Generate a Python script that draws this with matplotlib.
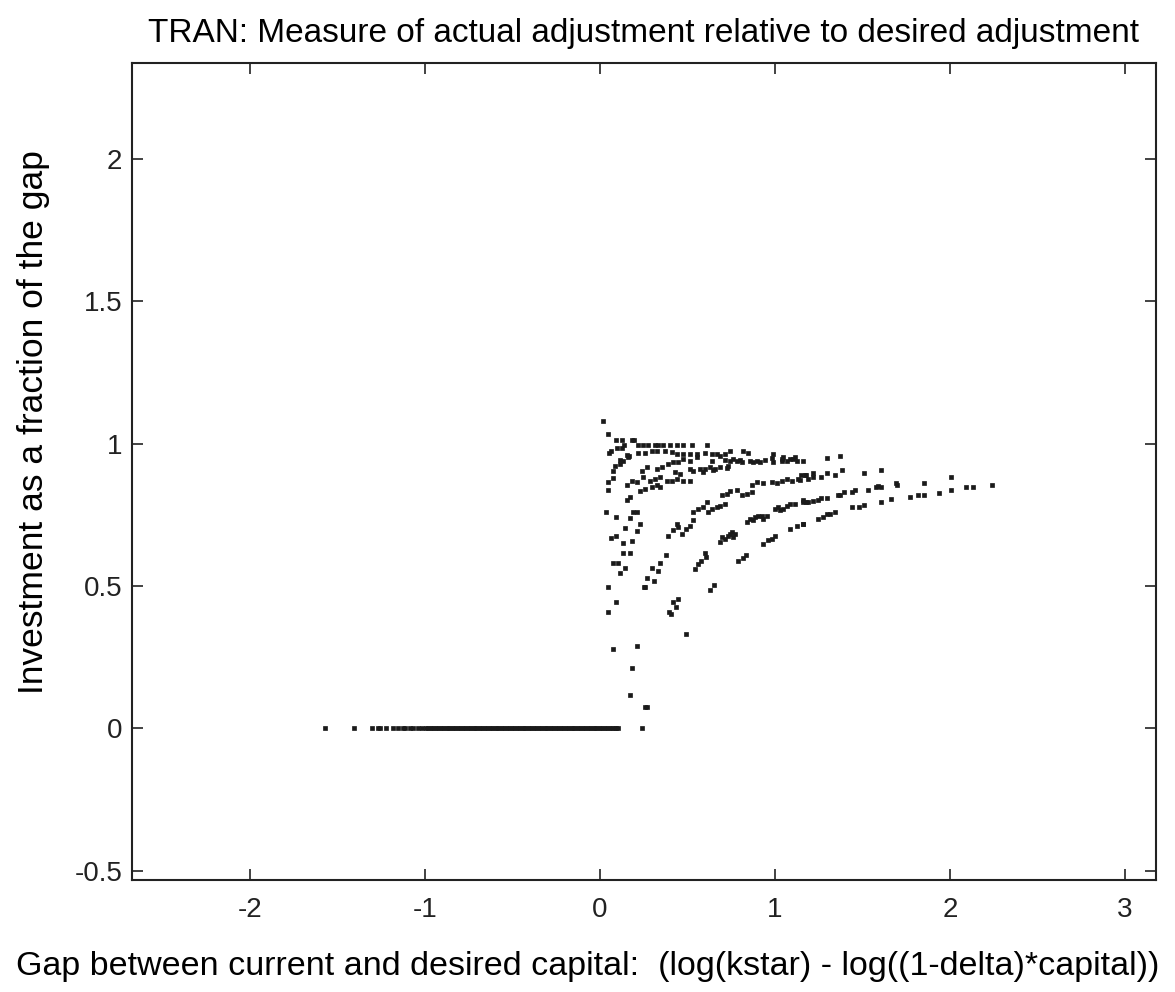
import numpy as np
import matplotlib
matplotlib.use('Agg')
import matplotlib.pyplot as plt

plt.rcParams['font.family'] = ['Liberation Sans', 'DejaVu Sans']

# points sitting on zero (no investment)
zero_x = [-1.571, -1.406, -1.303, -1.267, -1.257, -1.223, -1.181, -1.156, -1.128,
          -1.114, -1.086, -1.070, -1.038, -1.019,
          -0.994, -0.980, -0.966, -0.952, -0.938, -0.924, -0.910, -0.896, -0.882,
          -0.868, -0.854, -0.840, -0.826, -0.812, -0.798, -0.784, -0.770, -0.756,
          -0.742, -0.728, -0.714, -0.700, -0.686, -0.672, -0.658, -0.644, -0.630,
          -0.616, -0.602, -0.588, -0.574, -0.560, -0.546, -0.532, -0.518, -0.504,
          -0.490, -0.476, -0.462, -0.448, -0.434, -0.420, -0.406, -0.392, -0.378,
          -0.364, -0.350, -0.336, -0.322, -0.308, -0.294, -0.280, -0.266, -0.252,
          -0.238, -0.224, -0.210, -0.196, -0.182, -0.168, -0.154, -0.140, -0.126,
          -0.112, -0.098, -0.084, -0.070, -0.056, -0.042, -0.028, -0.014, 0.000,
          0.014, 0.028, 0.042, 0.056, 0.067, 0.086, 0.094, 0.103, 0.238]

# top band (fraction close to 1)
top_x = [0.019, 0.047, 0.091, 0.124, 0.181, 0.196,
         0.139, 0.219, 0.248, 0.276, 0.314, 0.333, 0.362, 0.400, 0.438, 0.476, 0.524, 0.610,
         0.100, 0.124, 0.052, 0.066,
         0.160, 0.166, 0.156, 0.133, 0.114,
         0.219, 0.257, 0.295, 0.324, 0.371, 0.410, 0.438,
         0.476, 0.514, 0.552, 0.600, 0.638, 0.667, 0.686, 0.714, 0.743, 0.819, 0.848, 0.990,
         1.048, 1.086, 1.114, 1.162, 1.300, 1.371]
top_y = [1.078, 1.035, 1.011, 1.011, 1.011, 1.011,
         0.994, 0.994, 0.994, 0.994, 0.994, 0.994, 0.994, 0.994, 0.994, 0.994, 0.994, 0.994,
         0.985, 0.985, 0.968, 0.975,
         0.954, 0.958, 0.960, 0.940, 0.943,
         0.968, 0.966, 0.975, 0.975, 0.975, 0.969, 0.964,
         0.964, 0.964, 0.964, 0.968, 0.962, 0.964, 0.958, 0.964, 0.975, 0.975, 0.966, 0.964,
         0.952, 0.946, 0.952, 0.940, 0.950, 0.958]

# second band
b2_x = [0.238, 0.267, 0.324, 0.352, 0.390, 0.419, 0.448, 0.476, 0.514, 0.552,
        0.638, 0.714, 0.743, 0.762, 0.781, 0.800, 0.810, 0.857, 0.876, 0.895, 0.914,
        0.943, 0.981, 0.990, 1.038, 1.038, 1.067, 1.105, 1.124,
        0.076, 0.086, 0.114,
        0.429, 0.457, 0.514, 0.533, 0.571, 0.600, 0.629, 0.657, 0.686, 0.724, 0.733,
        0.590, 0.648,
        1.147, 1.177, 1.219, 1.300, 1.343, 1.385, 1.509, 1.606, 2.006]
b2_y = [0.905, 0.917, 0.911, 0.917, 0.929, 0.935, 0.935, 0.946, 0.940, 0.952,
        0.940, 0.943, 0.940, 0.946, 0.940, 0.943, 0.935, 0.940, 0.935, 0.940, 0.935,
        0.943, 0.950, 0.935, 0.946, 0.940, 0.940, 0.946, 0.938,
        0.905, 0.923, 0.929,
        0.900, 0.894, 0.911, 0.905, 0.911, 0.911, 0.917, 0.911, 0.917, 0.914, 0.920,
        0.900, 0.906,
        0.890, 0.890, 0.898, 0.898, 0.890, 0.906, 0.898, 0.906, 0.881]

# third band
b3_x = [0.047, 0.047, 0.072,
        0.152, 0.181, 0.210, 0.248,
        0.286, 0.314, 0.343, 0.381, 0.410, 0.438, 0.476, 0.514,
        0.229, 0.257, 0.295, 0.324, 0.343,
        0.867, 0.895, 0.933, 0.981, 1.010, 1.038, 1.067, 1.095, 1.133, 1.171,
        1.143, 1.190, 1.217, 1.263,
        1.590, 1.606, 1.579, 1.533, 1.690, 1.700, 1.853, 2.006, 2.090, 2.130, 2.238,
        0.695, 0.724, 0.743, 0.781, 0.810, 0.838, 0.867,
        1.457, 1.438, 1.396, 1.371, 1.358, 1.937, 1.853, 1.820, 1.771, 1.661, 1.606]
b3_y = [0.864, 0.837, 0.879,
        0.853, 0.870, 0.864, 0.882,
        0.870, 0.876, 0.882, 0.870, 0.870, 0.876, 0.870, 0.870,
        0.835, 0.841, 0.847, 0.853, 0.847,
        0.853, 0.864, 0.861, 0.864, 0.861, 0.870, 0.876, 0.870, 0.876, 0.888,
        0.873, 0.875, 0.882, 0.881,
        0.850, 0.846, 0.846, 0.837, 0.863, 0.854, 0.863, 0.837, 0.846, 0.846, 0.855,
        0.818, 0.823, 0.835, 0.837, 0.818, 0.823, 0.829,
        0.837, 0.829, 0.829, 0.820, 0.820, 0.828, 0.820, 0.820, 0.812, 0.804, 0.795]

# fourth band
b4_x = [0.152, 0.171,
        0.034, 0.090, 0.187, 0.210,
        0.143, 0.213, 0.171, 0.229,
        0.390, 0.419, 0.438, 0.448, 0.467, 0.490, 0.514, 0.533,
        0.533, 0.562, 0.590, 0.610, 0.619, 0.638, 0.667, 0.686, 0.714,
        0.838, 0.857, 0.876, 0.886, 0.905, 0.924, 0.933, 0.952,
        1.000, 1.019, 1.029, 1.048, 1.067, 1.086, 1.114, 1.162,
        1.300, 1.261, 1.247, 1.219, 1.190, 1.177, 1.162,
        1.509, 1.482, 1.438,
        1.343, 1.314, 1.300, 1.273, 1.247, 1.162]
b4_y = [0.802, 0.812,
        0.761, 0.743, 0.761, 0.761,
        0.703, 0.692, 0.737, 0.718,
        0.675, 0.695, 0.716, 0.707, 0.683, 0.700, 0.709, 0.733,
        0.759, 0.771, 0.777, 0.795, 0.759, 0.771, 0.777, 0.782, 0.788,
        0.724, 0.736, 0.730, 0.742, 0.747, 0.747, 0.736, 0.747,
        0.771, 0.777, 0.765, 0.771, 0.782, 0.788, 0.788, 0.795,
        0.810, 0.810, 0.801, 0.798, 0.795, 0.795, 0.801,
        0.786, 0.777, 0.777,
        0.760, 0.751, 0.751, 0.743, 0.734, 0.718]

# lower points (steep part of the curves)
low_x = [0.061, 0.090, 0.130, 0.185, 0.130, 0.171,
         0.076, 0.105, 0.114, 0.143,
         0.295, 0.343, 0.333, 0.377, 0.267, 0.309, 0.253, 0.257,
         0.545, 0.562, 0.577, 0.606, 0.600,
         0.686, 0.695, 0.714, 0.733, 0.743, 0.762, 0.771, 0.752,
         0.933, 0.962, 0.981, 1.000,
         1.086, 1.124, 1.162,
         0.790, 0.819, 0.833,
         0.629, 0.653, 0.047,
         0.448, 0.419, 0.434, 0.392, 0.406,
         0.090, 0.047, 0.490, 0.072, 0.213, 0.185, 0.171, 0.257, 0.267]
low_y = [0.669, 0.675, 0.650, 0.657, 0.615, 0.615,
         0.580, 0.580, 0.545, 0.564,
         0.564, 0.580, 0.554, 0.607, 0.528, 0.519, 0.495, 0.496,
         0.560, 0.578, 0.589, 0.601, 0.615,
         0.654, 0.671, 0.665, 0.677, 0.683, 0.671, 0.683, 0.689,
         0.648, 0.660, 0.665, 0.674,
         0.700, 0.709, 0.716,
         0.589, 0.599, 0.607,
         0.484, 0.502, 0.496,
         0.455, 0.443, 0.426, 0.409, 0.400,
         0.443, 0.409, 0.332, 0.280, 0.289, 0.212, 0.116, 0.075, 0.075]

gap = np.concatenate([zero_x, top_x, b2_x, b3_x, b4_x, low_x])
frac = np.concatenate([np.zeros(len(zero_x)), top_y, b2_y, b3_y, b4_y, low_y])

fig = plt.figure(figsize=(11.75, 9.92), dpi=100)
ax = fig.add_axes([0.1123, 0.1129, 0.8715, 0.8236])

ax.plot(gap, frac, linestyle='none', marker='s', markersize=2.3,
        markeredgewidth=0.5, color='#1a1a1a')

ax.set_xlim(-2.674, 3.177)
ax.set_ylim(-0.533, 2.337)
ax.set_xticks([-2, -1, 0, 1, 2, 3])
ax.set_xticklabels(['-2', '-1', '0', '1', '2', '3'])
ax.set_yticks([-0.5, 0, 0.5, 1, 1.5, 2])
ax.set_yticklabels(['-0.5', '0', '0.5', '1', '1.5', '2'])

ax.tick_params(axis='x', direction='in', length=8, width=1.2, top=True, bottom=True,
               labelsize=20, pad=12, colors='#222222')
ax.tick_params(axis='y', direction='in', length=8, width=1.2, left=True, right=True,
               labelsize=20, pad=7, colors='#222222')
for s in ax.spines.values():
    s.set_linewidth(1.5)
    s.set_color('#222222')

ax.set_title('TRAN: Measure of actual adjustment relative to desired adjustment',
             fontsize=24, pad=15)
ax.set_xlabel('Gap between current and desired capital:  (log(kstar) - log((1-delta)*capital))',
              fontsize=24.5)
ax.xaxis.set_label_coords(0.445, -0.087)
ax.set_ylabel('Investment as a fraction of the gap', fontsize=25.5)
ax.yaxis.set_label_coords(-0.080, 0.561)

fig.savefig('out.png', dpi=100)
